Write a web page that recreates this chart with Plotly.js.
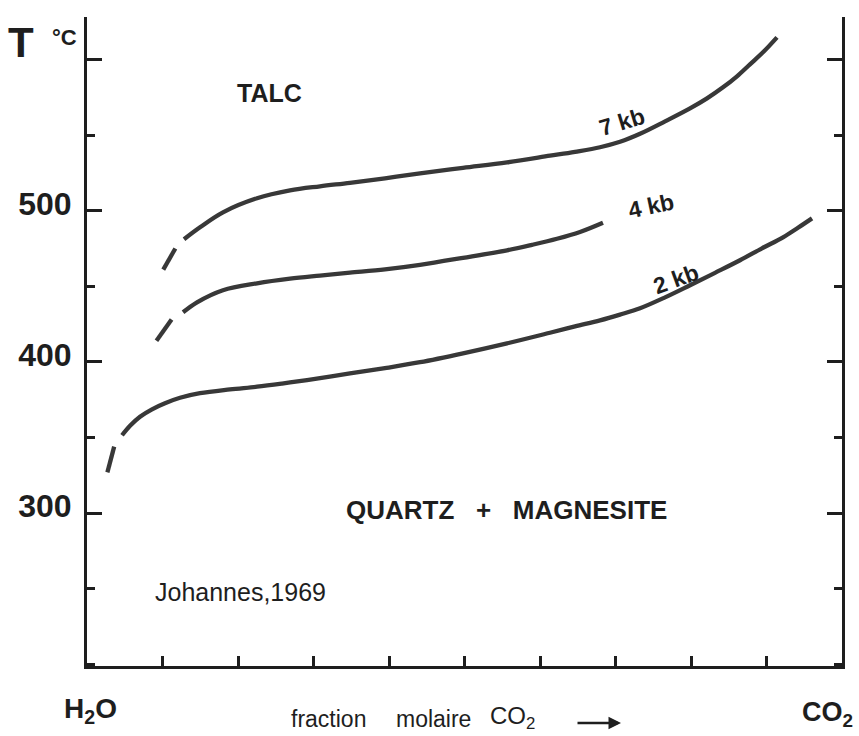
<!DOCTYPE html>
<html>
<head>
<meta charset="utf-8">
<script src="https://cdn.plot.ly/plotly-3.0.1.min.js"></script>
<style>
  html, body { margin: 0; padding: 0; background: #ffffff; }
  #chart { width: 859px; height: 736px; }
</style>
</head>
<body>
<div id="chart"></div>
<script>
// ---- Data (mole fraction CO2 vs temperature °C) ----
var x7kbDash = [0.101, 0.117];
var t7kbDash = [461, 475];
var x7kb = [0.1285, 0.1497, 0.1801, 0.2252, 0.2689, 0.3086, 0.3483, 0.3947, 0.4411, 0.4980, 0.5563, 0.6132, 0.6464, 0.6795, 0.7060, 0.7325, 0.7656, 0.7987, 0.8212, 0.8424, 0.8609, 0.8781, 0.8967, 0.9139];
var t7kb = [481.1, 489.0, 498.9, 508.2, 513.4, 516.1, 518.4, 521.4, 524.7, 528.3, 531.9, 536.3, 538.9, 541.9, 545.5, 550.8, 559.0, 567.6, 574.2, 581.5, 588.8, 596.7, 605.3, 614.5];

var x4kbDash = [0.092, 0.112];
var t4kbDash = [414, 428];
var x4kb = [0.1272, 0.1457, 0.1801, 0.2252, 0.2689, 0.3086, 0.3483, 0.3947, 0.4411, 0.4980, 0.5563, 0.5894, 0.6225, 0.6530, 0.6834];
var t4kb = [432.8, 439.4, 447.4, 452.0, 455.1, 457.1, 459.0, 461.2, 464.2, 468.8, 473.8, 477.4, 481.4, 485.9, 492.0];

var x2kbDash = [0.027, 0.036];
var t2kbDash = [327, 344];
var x2kb = [0.0464, 0.0570, 0.0702, 0.0861, 0.1033, 0.1232, 0.1497, 0.1894, 0.2252, 0.2583, 0.2914, 0.3483, 0.3947, 0.4411, 0.4980, 0.5563, 0.6132, 0.6464, 0.6795, 0.7060, 0.7325, 0.7656, 0.7987, 0.8318, 0.8649, 0.8940, 0.9219, 0.9417, 0.9603];
var t2kb = [351.5, 357.8, 363.8, 368.7, 372.7, 376.3, 379.3, 381.8, 383.6, 385.7, 388.0, 392.4, 395.9, 399.8, 405.7, 412.3, 419.3, 423.5, 427.5, 431.3, 435.5, 442.7, 450.7, 458.9, 467.2, 475.1, 482.4, 488.7, 494.9];

var yTickVals = [300, 400, 500, 600];
var yTickText = ['300', '400', '500', ''];
var xTickVals = [0.1, 0.2, 0.3, 0.4, 0.5, 0.6, 0.7, 0.8, 0.9];

// ---- Styling ----
var LINE = '#383838';
var INK = '#1e1e1e';
var FONT = 'Liberation Sans, Arial, sans-serif';

function curve(x, y) {
  return {
    x: x, y: y, type: 'scatter', mode: 'lines',
    line: { color: LINE, width: 4.3, shape: 'spline', smoothing: 1 },
    hoverinfo: 'skip', showlegend: false
  };
}

var traces = [
  curve(x7kbDash, t7kbDash), curve(x7kb, t7kb),
  curve(x4kbDash, t4kbDash), curve(x4kb, t4kb),
  curve(x2kbDash, t2kbDash), curve(x2kb, t2kb)
];

// pixel -> paper helpers for label placement
var L = 87, T = 17, W = 755, H = 649;
function px(x) { return (x - L) / W; }
function py(y) { return (T + H - y) / H; }

function label(text, x, y, size, opts) {
  var a = {
    text: text, xref: 'paper', yref: 'paper', x: px(x), y: py(y),
    showarrow: false, xanchor: 'center', yanchor: 'middle',
    font: { family: FONT, size: size, color: INK, weight: 'bold' }
  };
  if (opts) { for (var k in opts) { a[k] = opts[k]; } }
  return a;
}
function plain(size) { return { family: FONT, size: size, color: INK }; }

var NB = '\u00a0';
var annotations = [
  label('T', 21, 42, 42),
  label('°C', 64, 38, 22),
  label('TALC', 269, 93, 25),
  label('7 kb', 622, 122, 23, { textangle: -17 }),
  label('4 kb', 651, 206, 23, { textangle: -12 }),
  label('2 kb', 676, 279, 23, { textangle: -20 }),
  label('QUARTZ' + NB + NB + NB + '+' + NB + NB + NB + 'MAGNESITE', 506, 510, 26),
  label('Johannes,1969', 153, 592, 25, { xanchor: 'left', font: plain(25) }),
  label('H<sub>2</sub>O', 90, 710, 28),
  label('CO<sub>2</sub>', 827, 714, 27),
  label('fraction', 328, 719, 23, { font: plain(23) }),
  label('molaire', 433, 719, 23, { font: plain(23) }),
  label('CO<sub>2</sub>', 512, 717, 24, { font: plain(24) }),
  {
    text: '', xref: 'paper', yref: 'paper', x: px(621), y: py(723),
    axref: 'pixel', ayref: 'pixel', ax: -45, ay: 0,
    showarrow: true, arrowhead: 2, arrowsize: 1, arrowwidth: 2.5, arrowcolor: INK
  }
];

var layout = {
  width: 859, height: 736,
  margin: { l: L, r: 859 - L - W, t: T, b: 736 - T - H, pad: 0 },
  paper_bgcolor: '#ffffff', plot_bgcolor: '#ffffff',
  showlegend: false,
  xaxis: {
    range: [0, 1], showline: true, linewidth: 3, linecolor: INK,
    ticks: 'inside', ticklen: 10, tickwidth: 3, tickcolor: INK,
    tickmode: 'array', tickvals: xTickVals, showticklabels: false,
    showgrid: false, zeroline: false, fixedrange: true
  },
  yaxis: {
    range: [199, 628], showline: true, linewidth: 3, linecolor: INK, mirror: 'ticks',
    ticks: 'inside', ticklen: 15, tickwidth: 3, tickcolor: INK,
    tickmode: 'array', tickvals: yTickVals, ticktext: yTickText,
    minor: { ticks: 'inside', ticklen: 8, tickwidth: 3, tickcolor: INK, dtick: 50, tick0: 0, showgrid: false },
    ticklabelstandoff: 6,
    ticklabelshift: -7,
    tickfont: { family: FONT, size: 32, color: INK, weight: 'bold' },
    showgrid: false, zeroline: false, fixedrange: true
  },
  annotations: annotations
};

Plotly.newPlot('chart', traces, layout, { staticPlot: true, displayModeBar: false });
</script>
</body>
</html>
